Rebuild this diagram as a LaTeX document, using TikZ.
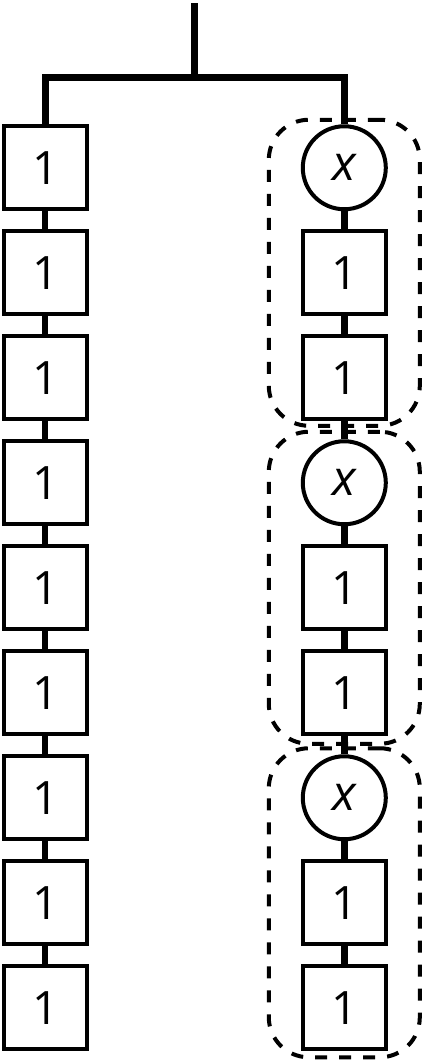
\documentclass[tikz,border=0pt]{standalone}
\usepackage{fontspec}
\setmainfont{Open Sans}
\usetikzlibrary{fit}
\begin{document}
\begin{tikzpicture}[x=1pt,y=-1pt,
  box/.style={draw, line width=4pt, minimum size=83pt, inner sep=0pt, font=\fontsize{46}{46}\selectfont},
  varc/.style={draw, circle, line width=4pt, minimum size=83pt, inner sep=0pt, font=\fontsize{49}{49}\selectfont\itshape},
  link/.style={line width=6.5pt},
  trunk/.style={line width=7pt},
  grp/.style={draw, dash pattern=on 12pt off 12pt, line width=4pt, rounded corners=40pt, inner xsep=32pt}]
\useasboundingbox (0,0) rectangle (422,1061);
% left column
\foreach \i in {1,...,9} {
  \node[box] (L\i) at (45.2, {167.75+105*(\i-1)}) {1};
}
% right column
\foreach \g in {0,1,2} {
  \pgfmathtruncatemacro{\a}{3*\g+1}
  \pgfmathtruncatemacro{\b}{3*\g+2}
  \pgfmathtruncatemacro{\c}{3*\g+3}
  \node[varc] (R\a) at (344.3, {167.75+315*\g}) {x};
  \node[box] (R\b) at (344.3, {167.75+315*\g+105}) {1};
  \node[box] (R\c) at (344.3, {167.75+315*\g+210}) {1};
}
% links
\foreach \i/\j in {1/2,2/3,3/4,4/5,5/6,6/7,7/8,8/9} {
  \draw[link] (L\i) -- (L\j);
  \draw[link] (R\i) -- (R\j);
}
% trunk
\coordinate (top) at (194.3,3);
\coordinate (jn) at (194.3,77.7);
\draw[trunk] (L1) |- (jn) -| (R1);
\draw[trunk] (top) -- (jn);
% groups
\node[grp, fit=(R1)(R3), inner ysep=4.5pt] (G1) {};
\node[grp, fit=(R4)(R6), inner ysep=7.5pt] (G2) {};
\node[grp, fit=(R7)(R9), inner ysep=6pt] (G3) {};
\end{tikzpicture}
\end{document}
